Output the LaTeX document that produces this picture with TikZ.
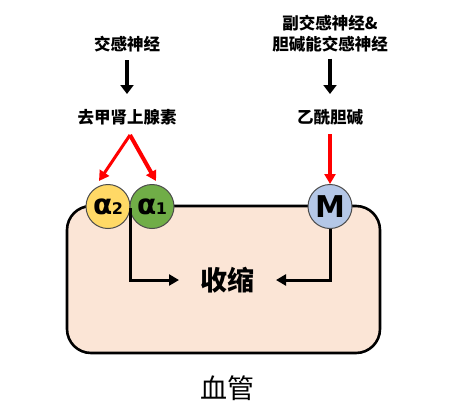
\documentclass[tikz,border=0pt]{standalone}
\usepackage{fontspec}
\newfontfamily\cjk{Noto Sans CJK SC}
\newfontfamily\cjkb{Noto Sans CJK SC Black}
\newfontfamily\grk{DejaVu Sans}
\usetikzlibrary{arrows.meta}
\definecolor{peach}{HTML}{FBE5D6}
\definecolor{yel}{HTML}{FFD966}
\definecolor{grn}{HTML}{70AD47}
\definecolor{blu}{HTML}{B4C7E7}
\definecolor{rd}{HTML}{FF0000}
\begin{document}
\begin{tikzpicture}[x=1pt,y=-1pt,
  lbl/.style={font=\cjkb\fontsize{16.5}{21}\selectfont, align=center, inner sep=0pt},
  rec/.style={circle, draw=black!70, line width=1pt, minimum size=44pt, inner sep=0pt, font=\grk\bfseries\fontsize{28}{28}\selectfont},
  blk/.style={line width=4pt, -{Triangle[width=13pt,length=9pt]}},
  redar/.style={draw=rd, line width=3.6pt, -{Triangle[width=11pt,length=10pt]}},
  thin/.style={line width=3pt, -{Triangle[width=11pt,length=10pt]}}]
\useasboundingbox (0,0) rectangle (455,405);
\draw[fill=peach, line width=2.6pt, rounded corners=24pt] (67,206) rectangle (380,353);
\node[lbl] (sym) at (127,44) {交感神经};
\node[lbl] (ne) at (127,117) {去甲肾上腺素};
\node[lbl] (para) at (330,34) {副交感神经\&\\胆碱能交感神经};
\node[lbl] (ach) at (330,117) {乙酰胆碱};
\node[rec, fill=yel] (a2) at (108,206.5) {α\kern-0.02em\raisebox{-0.02em}{\fontsize{16}{16}\selectfont 2}};
\node[rec, fill=grn] (a1) at (152,206.5) {α\kern-0.02em\raisebox{-0.02em}{\fontsize{16}{16}\selectfont 1}};
\node[rec, fill=blu] (m) at (330,206.5) {\grk\bfseries\fontsize{30}{30}\selectfont M};
\node[font=\cjkb\fontsize{27}{27}\selectfont, inner sep=0pt] (sc) at (227,280) {收缩};
\node[font=\cjk\fontsize{27}{27}\selectfont, inner sep=0pt] (vessel) at (227,388) {血管};
\coordinate (apex) at (130,135);
\coordinate (j) at (130,208);
\coordinate (le) at (179,280);
\coordinate (re) at (276,280);
\draw[blk] (sym.south) ++(0,8) -- (127,94);
\draw[blk] (para.south) ++(0,6) -- (330,94);
\draw[redar, line width=3pt] (apex) -- (99,181);
\draw[redar, line width=4pt] (apex) -- (156,181);
\draw[redar] (ach.south) ++(0,9) -- (m.north);
\draw[thin] (j) |- (le);
\draw[thin] (m.south) |- (re);
\end{tikzpicture}
\end{document}
